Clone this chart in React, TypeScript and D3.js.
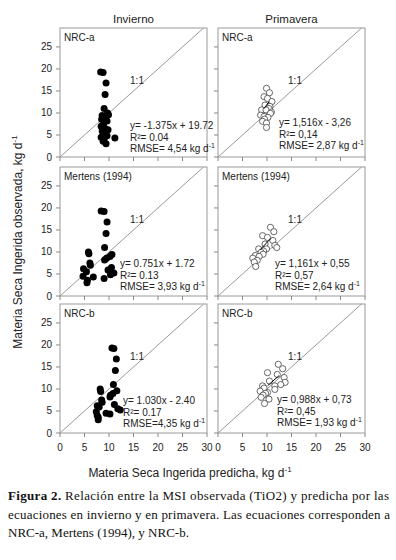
import * as d3 from "d3";

// observed intake (same cows, different equations)
const obsWinter = [19.3, 19.2, 16.8, 14.2, 11.0, 10.0, 9.6, 9.4, 9.0, 8.6, 8.2, 7.5, 7.0, 6.5, 6.2, 5.9, 5.5, 5.2, 4.8, 4.5, 4.3, 4.0, 3.6, 3.0];
const predWinterNrcA = [8.3, 8.8, 9.4, 9.2, 9.0, 9.7, 9.9, 8.6, 9.3, 8.5, 9.6, 8.9, 8.4, 9.2, 9.8, 8.6, 9.3, 8.9, 9.6, 8.4, 11.2, 9.0, 8.8, 9.4];
const predWinterMertens = [8.4, 9.0, 9.6, 9.4, 9.1, 5.8, 5.9, 10.6, 10.2, 9.5, 9.1, 6.1, 6.2, 10.5, 4.8, 9.8, 5.4, 11.0, 10.3, 4.7, 6.8, 9.0, 5.6, 5.5];
const predWinterNrcB = [10.6, 11.0, 11.5, 11.3, 10.9, 8.2, 11.6, 8.3, 10.8, 10.3, 10.2, 8.5, 8.6, 11.1, 7.6, 8.0, 11.8, 12.3, 7.4, 9.4, 10.2, 7.6, 7.8, 7.8];

const obsSpring = [15.6, 14.6, 13.7, 13.3, 12.6, 11.8, 11.5, 11.0, 10.7, 10.7, 10.2, 9.9, 9.5, 9.2, 9.0, 8.6, 8.1, 7.7, 6.7];
const predSpringNrcA = [9.9, 10.5, 9.4, 10.1, 11.0, 9.6, 10.6, 10.4, 8.9, 9.8, 10.9, 10.7, 8.7, 9.4, 10.2, 9.5, 9.1, 9.9, 9.9];
const predSpringMertens = [10.7, 11.4, 9.1, 10.1, 11.2, 9.6, 11.6, 12.0, 8.3, 9.9, 9.3, 8.8, 9.2, 7.6, 8.4, 7.1, 8.0, 7.4, 7.7];
const predSpringNrcB = [12.3, 13.2, 10.1, 12.1, 13.5, 10.5, 13.7, 12.8, 9.1, 11.6, 9.4, 11.6, 8.6, 10.1, 9.7, 9.2, 8.8, 10.4, 9.5];

const seasons = ["Invierno", "Primavera"];
const equations = ["NRC-a", "Mertens (1994)", "NRC-b"];
const slopes = [1.516, 1.161, 0.988]; // spring fits, drawn as short segments
const intercepts = [-3.26, 0.55, 0.73];
const eqLabels = [
  ["y= -1.375x + 19.72", "y= 1,516x - 3,26"],
  ["y= 0.751x + 1.72", "y= 1,161x + 0,55"],
  ["y= 1.030x - 2.40", "y= 0,988x + 0,73"],
];
const r2Labels = [["0.04", "0,14"], ["0.13", "0,57"], ["0.17", "0,45"]];
const rmseLabels = [["= 4,54", "= 2,87"], ["= 3,93", "= 2,64"], ["=4,35", "= 1,93"]];
const predicted = [
  [predWinterNrcA, predSpringNrcA],
  [predWinterMertens, predSpringMertens],
  [predWinterNrcB, predSpringNrcB],
];
const observed = [obsWinter, obsSpring];

const xTicks = [0, 5, 10, 15, 20, 25, 30];
const yTicks = [0, 5, 10, 15, 20, 25];

const COL_X = [60, 218];
const ROW_Y = [28, 167, 304];
const PANEL_W = 147;
const PANEL_H = 129;
const EQ_X = [[70, 61], [60, 57], [63, 59]];
const EQ_Y = [[101, 98], [100, 100], [100, 99]];

const FONT = "'Liberation Sans', Arial, sans-serif";
const TXT = "#222";

const x = d3.scaleLinear().domain([0, 30]).range([0, PANEL_W]);
const y = d3.scaleLinear().domain([0, 29.3]).range([PANEL_H, 0]);
const line = d3.line<[number, number]>().x((d) => x(d[0])).y((d) => y(d[1]));

const Panel = ({ row, col }: { row: number; col: number }) => {
  const preds = predicted[row][col];
  const obs = observed[col];
  const filled = col === 0;
  // short fitted segment across the middle of the spring cloud
  const [x0, x1] = d3.extent(preds) as [number, number];
  const a = x0 + (x1 - x0) * 0.3;
  const z = x0 + (x1 - x0) * 0.75;
  return (
    <g transform={`translate(${COL_X[col]},${ROW_Y[row]})`}>
      <rect width={PANEL_W} height={PANEL_H} fill="none" stroke="#9a9a9a" strokeWidth={1} />
      {xTicks.map((t) => (
        <line key={"x" + t} x1={x(t)} x2={x(t)} y1={PANEL_H} y2={PANEL_H + 4} stroke="#888" />
      ))}
      {yTicks.map((t) => (
        <line key={"y" + t} x1={-4} x2={0} y1={y(t)} y2={y(t)} stroke="#888" />
      ))}
      {col === 0 &&
        yTicks.map((t) => (
          <text key={"yl" + t} x={-8} y={y(t)} dy="0.35em" textAnchor="end" fontSize={10} fill={TXT}>
            {t}
          </text>
        ))}
      {row === 2 &&
        xTicks.map((t) => (
          <text key={"xl" + t} x={x(t)} y={PANEL_H + 18} textAnchor="middle" fontSize={10} fill={TXT}>
            {t}
          </text>
        ))}
      <path d={line([[0, 0], [29.3, 29.3]])!} stroke="#999" strokeWidth={1} fill="none" />
      <text x={x(14.3)} y={56} fontSize={10} fill={TXT}>1:1</text>
      <text x={4} y={13} fontSize={10} fill={TXT}>{equations[row]}</text>
      {preds.map((p, i) => (
        <circle
          key={i}
          cx={x(p)}
          cy={y(obs[i])}
          r={filled ? 3.5 : 3.1}
          fill={filled ? "#000" : "#fff"}
          stroke={filled ? "#000" : "#444"}
          strokeWidth={filled ? 0 : 0.8}
        />
      ))}
      {!filled && (
        <path
          d={line([[a, slopes[row] * a + intercepts[row]], [z, slopes[row] * z + intercepts[row]]])!}
          stroke="#000"
          strokeWidth={1}
          fill="none"
        />
      )}
      <g fontSize={10} fill={TXT}>
        <text x={EQ_X[row][col]} y={EQ_Y[row][col]}>{eqLabels[row][col]}</text>
        <text x={EQ_X[row][col]} y={EQ_Y[row][col] + 11.5}>R²= {r2Labels[row][col]}</text>
        <text x={EQ_X[row][col]} y={EQ_Y[row][col] + 23}>
          RMSE{rmseLabels[row][col]} kg d
          <tspan dy={-4} fontSize={7}>-1</tspan>
        </text>
      </g>
    </g>
  );
};

export default function App() {
  return (
    <svg
      width={396}
      height={560}
      style={{ position: "absolute", left: 0, top: 0, background: "#fff" }}
      fontFamily={FONT}
    >
      <rect width={396} height={560} fill="#fff" />
      {seasons.map((s, c) => (
        <text key={s} x={COL_X[c] + PANEL_W / 2} y={23} textAnchor="middle" fontSize={11.5} fill={TXT}>
          {s}
        </text>
      ))}
      {equations.map((_, r) =>
        seasons.map((_, c) => <Panel key={r + "-" + c} row={r} col={c} />)
      )}
      <text transform="translate(22,242) rotate(-90)" textAnchor="middle" fontSize={12} fill={TXT}>
        Materia Seca Ingerida observada, kg d
        <tspan dy={-5} fontSize={8}>-1</tspan>
      </text>
      <text x={190} y={477} textAnchor="middle" fontSize={12} fill={TXT}>
        Materia Seca Ingerida predicha, kg d
        <tspan dy={-5} fontSize={8}>-1</tspan>
      </text>
      <g fontFamily="'Liberation Serif', 'Times New Roman', serif" fontSize={13} fill="#111">
        <text x={8} y={500} textLength={381} lengthAdjust="spacing">
          <tspan fontWeight="bold">Figura 2.</tspan> Relación entre la MSI observada (TiO2) y predicha por las
        </text>
        <text x={8} y={519} textLength={382} lengthAdjust="spacing">
          ecuaciones en invierno  y en primavera. Las ecuaciones corresponden a
        </text>
        <text x={8} y={537}>
          NRC-a, Mertens (1994), y NRC-b.
        </text>
      </g>
    </svg>
  );
}
